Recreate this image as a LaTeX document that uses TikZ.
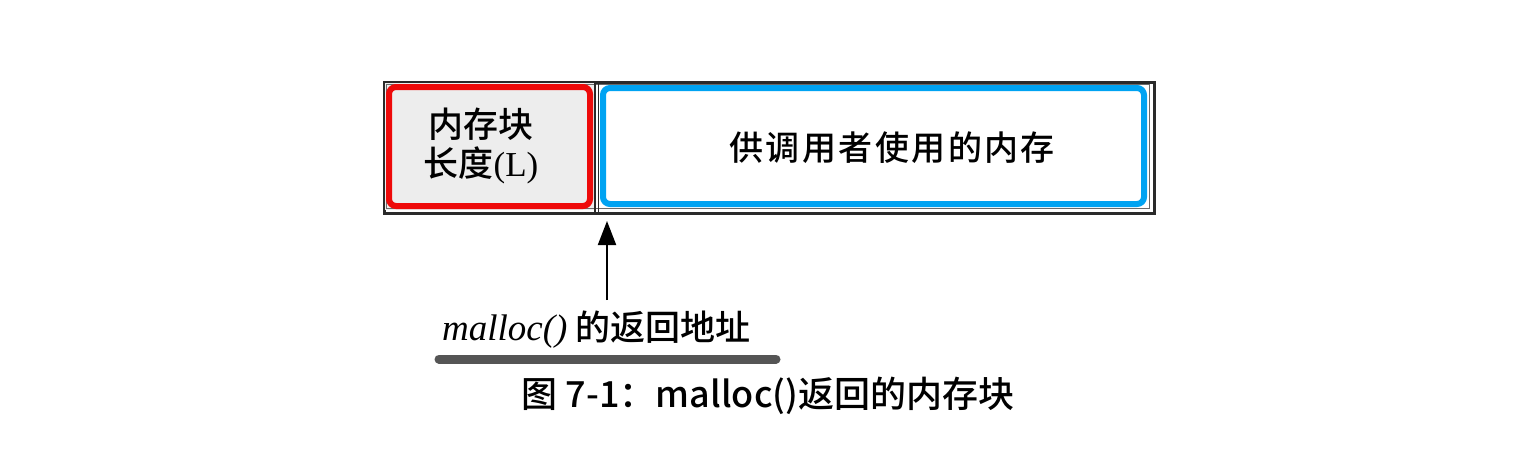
\documentclass[tikz,border=0pt]{standalone}
\usepackage{fontspec}
\setmainfont{Liberation Serif}
\newfontfamily\cjk{Noto Sans CJK SC Medium}
\newfontfamily\cjkb{Noto Sans CJK SC Medium}
\usetikzlibrary{arrows.meta}
\definecolor{redc}{HTML}{EE0A0A}
\definecolor{bluec}{HTML}{00A3F2}
\definecolor{framec}{HTML}{2A2A2A}
\definecolor{barc}{HTML}{555555}
\definecolor{cellc}{HTML}{EDEDED}
\tikzset{
  frameline/.style={draw=framec, line width=2.8pt},
  hilite/.style={line width=6pt, rounded corners=7pt},
  boxtext/.style={font=\cjk\fontsize{35}{38}\selectfont, align=center, inner sep=0pt},
}
\begin{document}
\begin{tikzpicture}[x=1pt,y=-1pt]
\useasboundingbox[fill=white] (0,0) rectangle (1532,448);
% frame
\node[frameline, fill=white, minimum width=770pt, minimum height=131pt, anchor=north west, inner sep=0pt] (frame) at (383,81) {};
\fill[cellc] (385,83) rectangle (595,210);
\draw[framec!70, line width=0.8pt] (386.5,84.5) rectangle (1149.5,208.5);
\draw[framec, line width=1.4pt] (595,81) -- (595,212);
\draw[framec, line width=1.2pt] (598.5,81) -- (598.5,212);
% highlight boxes
\draw[redc, hilite] (389,87) rectangle (590,206);
\draw[bluec, hilite] (603,88) rectangle (1144,204);
% texts
\node[boxtext] (len) at (481,146) {内存块\\[1pt]长度\rmfamily(L)};
\node[boxtext, font=\cjk\fontsize{34}{40}\selectfont] (user) at (892,148) {供\kern2.5pt调\kern2.5pt用\kern2.5pt者\kern2.5pt使\kern2.5pt用\kern2.5pt的\kern2.5pt内\kern2.5pt存};
% label and arrow
\node[inner sep=0pt, anchor=west] (lbl) at (442,330) {\fontsize{37}{40}\selectfont\itshape malloc()\kern8pt\cjk\fontsize{35}{40}\selectfont 的返回地址};
\coordinate (tip) at (607,221);
\coordinate (tail) at (607,300);
\draw[line width=2pt, -{Triangle[length=24pt,width=18pt]}] (tail) -- (tip);
\draw[barc, line width=9pt, line cap=round] (439,359) -- (776,359);
% caption
\node[inner sep=0pt] (cap) at (768,396) {\cjkb\fontsize{36}{40}\selectfont 图 7-1：malloc()返回的内存块};
\end{tikzpicture}
\end{document}
